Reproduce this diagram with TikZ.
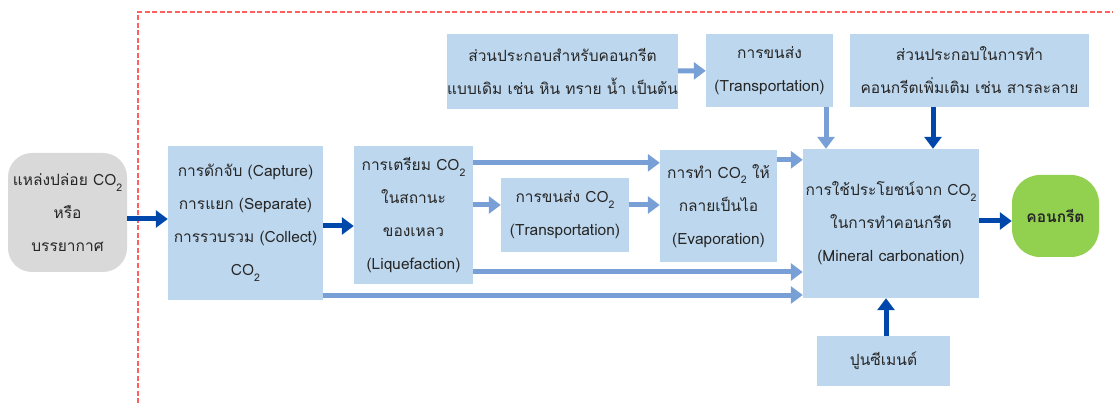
\documentclass[tikz,border=0pt]{standalone}
\usepackage{fontspec}
\newfontfamily\thai[Script=Thai]{Loma}
\usetikzlibrary{arrows.meta}
\definecolor{boxblue}{RGB}{189,215,238}
\definecolor{darkarr}{RGB}{0,71,171}
\definecolor{lightarr}{RGB}{120,160,215}
\definecolor{srcgray}{RGB}{217,217,217}
\definecolor{concgreen}{RGB}{146,208,80}
\definecolor{dashred}{RGB}{255,95,95}
\newcommand{\cotwo}{CO\raisebox{-0.7ex}{\fontsize{10.5}{10.5}\selectfont 2}}

\begin{document}
\begin{tikzpicture}[x=1pt,y=-1pt,
    box/.style={rectangle, fill=boxblue, inner sep=0pt, align=center,
      text=black!85, font=\thai\fontsize{15.5}{33}\selectfont},
    round/.style={box, rounded corners=24pt},
    darr/.style={line width=5pt, darkarr, -{Triangle[length=12pt,width=17pt]}},
    larr/.style={darr, lightarr}]
  \useasboundingbox (0,0) rectangle (1113,403);
  \draw[dashred, line width=1.8pt, dash pattern=on 5pt off 2.5pt] (138,403) -- (138,12) -- (1113,12);

  \node[round, fill=srcgray, minimum width=119pt, minimum height=119pt] (src) at (67.5,212.5) {แหล่งปล่อย \cotwo\\หรือ\\บรรยากาศ};
  \node[box, minimum width=155pt, minimum height=154pt] (cap) at (245.5,223) {การดักจับ (Capture)\\การแยก (Separate)\\การรวบรวม (Collect)\\\cotwo};
  \node[box, minimum width=119pt, minimum height=138pt] (liq) at (413.5,215) {การเตรียม \cotwo\\ในสถานะ\\ของเหลว\\(Liquefaction)};
  \node[box, minimum width=128pt, minimum height=74pt] (trn) at (565,215) {การขนส่ง \cotwo\\(Transportation)};
  \node[box, minimum width=117pt, minimum height=112pt] (eva) at (718.5,206) {การทำ \cotwo{} ให้\\กลายเป็นไอ\\(Evaporation)};
  \node[box, minimum width=176pt, minimum height=149pt] (min) at (891,223.5) {การใช้ประโยชน์จาก \cotwo\\ในการทำคอนกรีต\\(Mineral carbonation)};
  \node[round, fill=concgreen, rounded corners=28pt, minimum width=87pt, minimum height=82pt, font=\thai\bfseries\fontsize{15.5}{33}\selectfont] (con) at (1055.5,216) {คอนกรีต};
  \node[box, minimum width=229pt, minimum height=75pt] (ing) at (562.5,71.5) {ส่วนประกอบสำหรับคอนกรีต\\แบบเดิม เช่น หิน ทราย น้ำ เป็นต้น};
  \node[box, minimum width=127pt, minimum height=73pt] (trt) at (769.5,70.5) {การขนส่ง\\(Transportation)};
  \node[box, minimum width=239pt, minimum height=73pt] (add) at (969.5,70.5) {ส่วนประกอบในการทำ\\คอนกรีตเพิ่มเติม เช่น สารละลาย};
  \node[box, minimum width=133pt, minimum height=50pt] (cem) at (883.5,361) {ปูนซีเมนต์};

  \coordinate (s1) at ([yshift=-6.5pt]src.east);
  \coordinate (c1) at ([yshift=-3pt]cap.east);
  \coordinate (c2) at ([yshift=-72pt]cap.east);
  \coordinate (l1) at ([yshift=10pt]liq.east);
  \coordinate (l2) at ([yshift=-17pt]liq.north east);
  \coordinate (l3) at ([yshift=-57pt]liq.east);
  \coordinate (t1) at ([yshift=10pt]trn.east);
  \coordinate (e1) at ([yshift=-10pt]eva.north east);
  \coordinate (m1) at ([yshift=2.5pt]min.east);
  \coordinate (t2) at ([xshift=56.5pt]trt.south);
  \coordinate (a1) at ([xshift=-36.5pt]add.south);
  \coordinate (p1) at ([xshift=2.5pt]cem.north);

  \draw[darr] (s1) -- (s1 -| cap.west);
  \draw[darr] (c1) -- (c1 -| liq.west);
  \draw[larr] (l1) -- (l1 -| trn.west);
  \draw[larr] (l2) -- (l2 -| eva.west);
  \draw[larr] (t1) -- (t1 -| eva.west);
  \draw[larr] (e1) -- (e1 -| min.west);
  \draw[larr] (l3) -- (l3 -| min.west);
  \draw[larr] (c2) -- (c2 -| min.west);
  \draw[darr] (m1) -- (m1 -| con.west);
  \draw[larr] (ing) -- (trt);
  \draw[larr] (t2) -- (t2 |- min.north);
  \draw[darr] (a1) -- (a1 |- min.north);
  \draw[darr] (p1) -- (p1 |- min.south);
\end{tikzpicture}
\end{document}
